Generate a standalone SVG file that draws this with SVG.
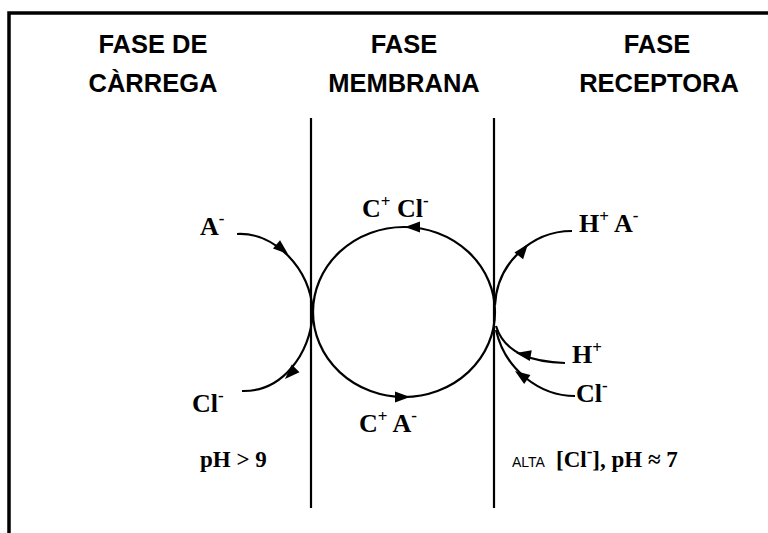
<svg xmlns="http://www.w3.org/2000/svg" width="768" height="533" viewBox="0 0 768 533">
<style>
.hdr{font-family:"Liberation Sans",Arial,sans-serif;font-weight:bold;font-size:25.5px;text-anchor:middle;fill:#000}
.lbl{font-family:"Liberation Serif","Times New Roman",serif;font-size:26px;font-weight:bold;fill:#000}
.sm{font-family:"Liberation Serif","Times New Roman",serif;font-size:23px;font-weight:bold;fill:#000}
.sup{font-size:17px}
.ln{fill:none;stroke:#000;stroke-width:2.2}
.frame{fill:none;stroke:#000;stroke-width:3.5}
</style>
<defs>
<path id="ah" d="M0,0 L-15,-5.5 L-15,5.5 Z" fill="#000"/>
</defs>
<rect width="768" height="533" fill="#fff"/>
<path class="frame" d="M9,533 L9,13 L768,13"/>
<g id="headers">
<text class="hdr" x="153" y="53">FASE DE</text>
<text class="hdr" x="153" y="92">CÀRREGA</text>
<text class="hdr" x="404" y="53">FASE</text>
<text class="hdr" x="404" y="92">MEMBRANA</text>
<text class="hdr" x="657" y="53">FASE</text>
<text class="hdr" x="659" y="92">RECEPTORA</text>
</g>
<g id="membranes">
<line class="ln" x1="311" y1="118" x2="311" y2="508" stroke-width="2.6"/>
<line class="ln" x1="494" y1="118" x2="494" y2="508" stroke-width="2.6"/>
</g>
<g id="connectors">
<ellipse class="ln" cx="404" cy="312" rx="91" ry="85"/>
<path class="ln" d="M237,234 C275,232 310,268 313,312"/>
<path class="ln" d="M313,312 C310,355 282,392 242,391"/>
<path class="ln" d="M572,231 C530,231 497,265 495,305"/>
<path class="ln" d="M565,363 C535,362 505,355 496,326"/>
<path class="ln" d="M575,396 C540,396 505,370 496,330"/>
<use href="#ah" transform="translate(405,227) rotate(180)"/>
<use href="#ah" transform="translate(410,397)"/>
<use href="#ah" transform="translate(288,254) rotate(40)"/>
<use href="#ah" transform="translate(285,379) rotate(135)"/>
<use href="#ah" transform="translate(528,244) rotate(-52)"/>
<use href="#ah" transform="translate(516,353) rotate(190)"/>
<use href="#ah" transform="translate(515,371) rotate(215)"/>
</g>
<g id="labels">
<text class="lbl" x="200" y="235">A<tspan class="sup" dy="-11">-</tspan></text>
<text class="lbl" x="192" y="412">Cl<tspan class="sup" dy="-11">-</tspan></text>
<text class="lbl" x="362" y="217">C<tspan class="sup" dy="-10">+</tspan><tspan dy="10"> Cl</tspan><tspan class="sup" dy="-11">-</tspan></text>
<text class="lbl" x="359" y="432">C<tspan class="sup" dy="-10">+</tspan><tspan dy="10"> A</tspan><tspan class="sup" dy="-11">-</tspan></text>
<text class="lbl" x="579" y="232">H<tspan class="sup" dy="-10">+</tspan><tspan dy="10"> A</tspan><tspan class="sup" dy="-11">-</tspan></text>
<text class="lbl" x="572" y="363">H<tspan class="sup" dy="-10">+</tspan></text>
<text class="lbl" x="576" y="402">Cl<tspan class="sup" dy="-11">-</tspan></text>
<text class="sm" x="200" y="467" font-size="22px">pH &gt; 9</text>
<text x="512" y="467" font-family="Liberation Sans,Arial,sans-serif" font-size="14" fill="#000">ALTA</text>
<text class="sm" x="556" y="467" font-size="24px">[Cl<tspan class="sup" font-size="16px" dy="-10">-</tspan><tspan dy="10">], pH ≈ 7</tspan></text>
</g>
</svg>
